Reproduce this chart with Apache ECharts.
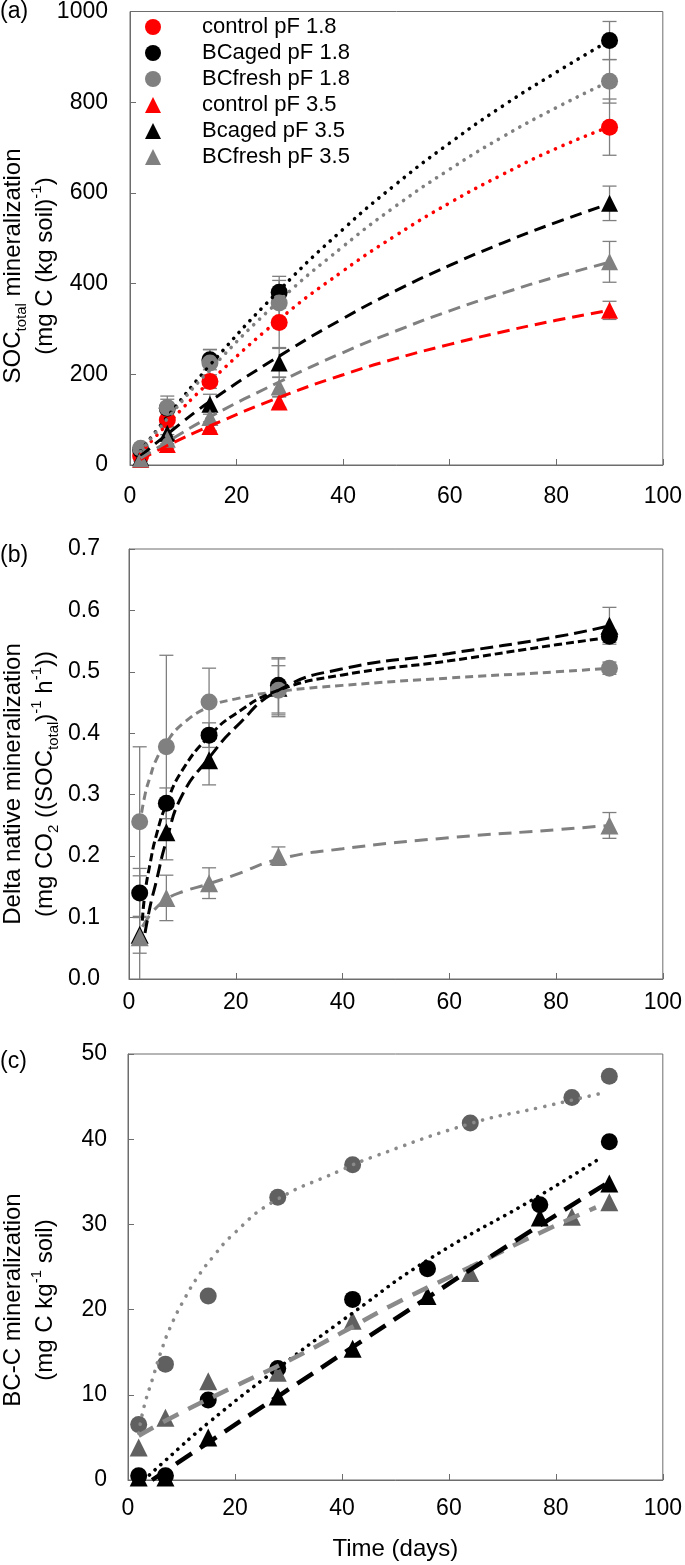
<!DOCTYPE html>
<html>
<head>
<meta charset="utf-8">
<script src="https://cdn.jsdelivr.net/npm/echarts@6/dist/echarts.min.js"></script>
<style>html,body{margin:0;padding:0;background:#fff;}#c{width:685px;height:1565px;}</style>
</head>
<body>
<div id="c"></div>
<script>
// ---------- DATA ----------
const xTicks = [0, 20, 40, 60, 80, 100];
const days = [2, 7, 15, 28, 90];

// Panel (a): SOC_total mineralization, mg C (kg soil)^-1
const aControl18 = [20, 99, 184, 314, 745];
const aBCaged18 = [33, 125, 232, 381, 936];
const aBCfresh18 = [37, 127, 225, 357, 846];
const aControl35 = [12, 45, 85, 139, 341];
const aBcaged35 = [16, 70, 134, 225, 577];
const aBCfresh35 = [13, 57, 105, 172, 448];
const aControl18Err = [5, 14, 15, 55, 62];
const aBCaged18Err = [8, 20, 22, 35, 42];
const aBCfresh18Err = [8, 25, 30, 50, 48];
const aControl35Err = [4, 8, 10, 12, 20];
const aBcaged35Err = [5, 12, 22, 32, 38];
const aBCfresh35Err = [4, 10, 15, 22, 45];
// fitted curves (a)
const aFitDays = [2, 7, 15, 28, 40, 50, 60, 70, 80, 90];
const aFitControl18 = [26, 90, 184, 321, 428, 507, 578, 641, 698, 746];
const aFitBCaged18 = [31, 106, 220, 385, 520, 620, 710, 792, 866, 936];
const aFitBCfresh18 = [30, 102, 210, 362, 482, 572, 652, 724, 788, 846];
const aFitControl35 = [12, 43, 86, 149, 199, 235, 266, 294, 319, 341];
const aFitBcaged35 = [20, 68, 140, 240, 323, 385, 440, 490, 535, 576];
const aFitBCfresh35 = [15, 51, 106, 183, 248, 296, 340, 379, 415, 447];

// Panel (b): delta native mineralization
const bBCaged18 = [0.14, 0.286, 0.397, 0.478, 0.558];
const bBCfresh18 = [0.256, 0.378, 0.451, 0.47, 0.506];
const bBcaged35 = [0.072, 0.239, 0.356, 0.474, 0.575];
const bBCfresh35 = [0.068, 0.132, 0.156, 0.2, 0.25];
const bBCaged18Err = [0.04, 0.025, 0.02, 0.045, 0.01];
const bBCfresh18Err = [0.122, 0.149, 0.055, 0.04, 0.01];
const bBcaged35Err = [0.03, 0.045, 0.04, 0.047, 0.03];
const bBCfresh35Err = [0.1, 0.037, 0.025, 0.015, 0.021];
const bFitFresh18Days = [2, 3, 4, 5, 7, 10, 15, 20, 28, 40, 60, 80, 90];
const bFitFresh18 = [0.25, 0.30, 0.33, 0.355, 0.385, 0.415, 0.443, 0.456, 0.468, 0.478, 0.49, 0.50, 0.506];
const bFitAged18Days = [2.5, 3, 4, 5, 7, 10, 15, 20, 28, 40, 60, 80, 90];
const bFitAged18 = [0.095, 0.14, 0.19, 0.23, 0.285, 0.34, 0.395, 0.432, 0.47, 0.495, 0.518, 0.544, 0.556];
const bFitAged35Days = [3, 4, 5, 7, 10, 15, 20, 28, 40, 60, 80, 90];
const bFitAged35 = [0.075, 0.12, 0.155, 0.225, 0.30, 0.36, 0.41, 0.47, 0.505, 0.53, 0.557, 0.575];
const bFitFresh35Days = [2.5, 4, 5, 7, 10, 15, 20, 28, 40, 60, 80, 90];
const bFitFresh35 = [0.085, 0.105, 0.115, 0.13, 0.142, 0.155, 0.17, 0.195, 0.212, 0.23, 0.243, 0.25];

// Panel (c): BC-C mineralization
const cFresh18Days = [2, 7, 15, 28, 42, 64, 83, 90];
const cFresh18 = [6.5, 13.6, 21.6, 33.2, 37.0, 41.9, 44.9, 47.4];
const cAged18Days = [2, 7, 15, 28, 42, 56, 77, 90];
const cAged18 = [0.5, 0.5, 9.4, 13.1, 21.2, 24.8, 32.3, 39.7];
const cAged35Days = [2, 7, 15, 28, 42, 56, 77, 90];
const cAged35 = [0.3, 0.3, 5.0, 9.8, 15.4, 21.6, 30.8, 34.8];
const cFresh35Days = [2, 7, 15, 28, 42, 64, 83, 90];
const cFresh35 = [3.8, 7.3, 11.6, 12.6, 18.7, 24.3, 30.9, 32.6];
const cFitFresh18Days = [2, 3, 4.7, 6.3, 8.1, 10.6, 13.1, 15.9, 19.6, 27, 39.6, 45.7, 64.4, 76.9, 88.6];
const cFitFresh18 = [5.5, 8.6, 12.1, 15.3, 18.2, 21.3, 23.9, 26.2, 28.8, 32.6, 36.3, 37.9, 41.9, 43.7, 45.4];
const cFitAged18Days = [3, 7, 15, 28, 42, 56, 77, 88.6];
const cFitAged18 = [0, 2.3, 6.7, 13.1, 19.6, 25.8, 33.4, 37.9];
const cFitAged35Days = [4.5, 15, 28, 42, 56, 73, 90];
const cFitAged35 = [0, 4.4, 9.8, 15.6, 21.4, 28.3, 35.0];
const cFitFresh35Days = [2, 9, 20, 30, 40, 49, 64, 77, 87.5];
const cFitFresh35 = [5.2, 7.6, 11.0, 14.0, 17.3, 20.4, 25.0, 29.0, 32.0];

// ---------- CHART ----------
const FONT = '"Liberation Sans", Arial, Helvetica, sans-serif';
const AX = '#6d6d6d';
const RED = '#ff0000', BLK = '#000000', GRY = '#808080', DGRY = '#606060', LGRY = '#8a8a8a';

const chart = echarts.init(document.getElementById('c'), null, {renderer: 'canvas'});

const grids = [
  {left: 130, top: 10, width: 533, height: 455},
  {left: 129, top: 549, width: 534, height: 430},
  {left: 128, top: 1054, width: 536, height: 426}
].map(g => Object.assign(g, {show: true, borderColor: AX, borderWidth: 1, backgroundColor: 'transparent'}));

const xMargins = [20, 12, 17];
const xAxes = [0, 1, 2].map(i => ({
  type: 'value', gridIndex: i, min: xTicks[0], max: xTicks[xTicks.length - 1], interval: 20,
  axisLine: {show: true, lineStyle: {color: AX, width: 1}},
  axisTick: {show: true, inside: true, length: 6, lineStyle: {color: AX}},
  axisLabel: {fontSize: 23, color: '#000', fontFamily: FONT, margin: xMargins[i]},
  splitLine: {show: false},
  name: i === 2 ? 'Time (days)' : '', nameLocation: 'middle', nameGap: 57,
  nameTextStyle: {fontSize: 24, color: '#000', fontFamily: FONT}
}));

const yCfg = [
  {min: 0, max: 1000, interval: 200, margin: 22, fmt: v => String(v)},
  {min: 0, max: 0.7, interval: 0.1, margin: 29, fmt: v => v.toFixed(1)},
  {min: 0, max: 50, interval: 10, margin: 21, fmt: v => String(v)}
];
const yAxes = yCfg.map((c, i) => ({
  type: 'value', gridIndex: i, min: c.min, max: c.max, interval: c.interval,
  axisLine: {show: true, lineStyle: {color: AX, width: 1}},
  axisTick: {show: true, inside: true, length: 6, lineStyle: {color: AX}},
  axisLabel: {fontSize: 23, color: '#000', fontFamily: FONT, margin: c.margin, formatter: c.fmt},
  splitLine: {show: false}
}));

function errRender(params, api) {
  const x = api.value(0), y = api.value(1), e = api.value(2);
  const clamped = (y - e) < 0;
  const pTop = api.coord([x, y + e]);
  const pBot = api.coord([x, Math.max(y - e, 0)]);
  const hw = 7;
  const st = {stroke: '#7f7f7f', lineWidth: 1.3, fill: null};
  const ch = [
    {type: 'line', shape: {x1: pTop[0], y1: pTop[1], x2: pBot[0], y2: pBot[1]}, style: st},
    {type: 'line', shape: {x1: pTop[0] - hw, y1: pTop[1], x2: pTop[0] + hw, y2: pTop[1]}, style: st}
  ];
  if (!clamped) ch.push({type: 'line', shape: {x1: pBot[0] - hw, y1: pBot[1], x2: pBot[0] + hw, y2: pBot[1]}, style: st});
  return {type: 'group', children: ch};
}

const series = [];
function errSeries(gi, xs, ys, es) {
  series.push({
    type: 'custom', xAxisIndex: gi, yAxisIndex: gi, z: 1, silent: true,
    renderItem: errRender, encode: {x: 0, y: 1},
    data: xs.map((d, i) => [d, ys[i], es[i]])
  });
}
function pts(gi, name, xs, ys, symbol, color, size) {
  series.push({
    type: 'scatter', name: name, xAxisIndex: gi, yAxisIndex: gi, z: 2,
    symbol: symbol, symbolSize: size, itemStyle: {color: color, opacity: 1},
    data: xs.map((d, i) => [d, ys[i]])
  });
}
function curve(gi, xs, ys, color, width, dash, cap) {
  series.push({
    type: 'line', xAxisIndex: gi, yAxisIndex: gi, z: 3, silent: true,
    showSymbol: false, symbol: 'none', smooth: 0.5,
    lineStyle: {color: color, width: width, type: dash, cap: cap || 'butt'},
    data: xs.map((d, i) => [d, ys[i]])
  });
}

const DOT_A = [0.1, 8];
const DASH_A = [12, 7];
// Panel (a)
errSeries(0, days, aControl18, aControl18Err);
errSeries(0, days, aBCaged18, aBCaged18Err);
errSeries(0, days, aBCfresh18, aBCfresh18Err);
errSeries(0, days, aControl35, aControl35Err);
errSeries(0, days, aBcaged35, aBcaged35Err);
errSeries(0, days, aBCfresh35, aBCfresh35Err);
pts(0, 'control pF 1.8', days, aControl18, 'circle', RED, 17);
pts(0, 'BCaged pF 1.8', days, aBCaged18, 'circle', BLK, 17);
pts(0, 'BCfresh pF 1.8', days, aBCfresh18, 'circle', GRY, 17);
pts(0, 'control pF 3.5', days, aControl35, 'triangle', RED, 17);
pts(0, 'Bcaged pF 3.5', days, aBcaged35, 'triangle', BLK, 17);
pts(0, 'BCfresh pF 3.5', days, aBCfresh35, 'triangle', GRY, 17);
curve(0, aFitDays, aFitControl18, RED, 3.6, DOT_A, 'round');
curve(0, aFitDays, aFitBCaged18, BLK, 3.6, DOT_A, 'round');
curve(0, aFitDays, aFitBCfresh18, GRY, 3.6, DOT_A, 'round');
curve(0, aFitDays, aFitControl35, RED, 3, DASH_A);
curve(0, aFitDays, aFitBcaged35, BLK, 3, DASH_A);
curve(0, aFitDays, aFitBCfresh35, GRY, 3, DASH_A);

// Panel (b)
errSeries(1, days, bBcaged35, bBcaged35Err);
errSeries(1, days, bBCaged18, bBCaged18Err);
errSeries(1, days, bBCfresh35, bBCfresh35Err);
errSeries(1, days, bBCfresh18, bBCfresh18Err);
pts(1, 'b Bcaged pF 3.5', days, bBcaged35, 'triangle', BLK, 18);
pts(1, 'b BCaged pF 1.8', days, bBCaged18, 'circle', BLK, 17);
pts(1, 'b BCfresh pF 3.5', days, bBCfresh35, 'triangle', GRY, 18);
pts(1, 'b BCfresh pF 1.8', days, bBCfresh18, 'circle', GRY, 17);
curve(1, bFitFresh18Days, bFitFresh18, GRY, 3, [8, 5]);
curve(1, bFitFresh35Days, bFitFresh35, GRY, 3, [13, 8]);
curve(1, bFitAged35Days, bFitAged35, BLK, 3, [13, 6]);
curve(1, bFitAged18Days, bFitAged18, BLK, 3, [8, 4]);

// Panel (c)
pts(2, 'c BCaged pF 1.8', cAged18Days, cAged18, 'circle', BLK, 17);
pts(2, 'c Bcaged pF 3.5', cAged35Days, cAged35, 'triangle', BLK, 18);
pts(2, 'c BCfresh pF 1.8', cFresh18Days, cFresh18, 'circle', DGRY, 17);
pts(2, 'c BCfresh pF 3.5', cFresh35Days, cFresh35, 'triangle', DGRY, 18);
curve(2, cFitFresh18Days, cFitFresh18, LGRY, 3.6, [0.1, 9], 'round');
curve(2, cFitAged18Days, cFitAged18, BLK, 3.6, [0.1, 7.5], 'round');
curve(2, cFitFresh35Days, cFitFresh35, LGRY, 4.5, [17, 11]);
curve(2, cFitAged35Days, cFitAged35, BLK, 4.5, [19, 10]);

const richBase = {
  n: {fontSize: 24, fontFamily: FONT, lineHeight: 32, color: '#000'},
  sub: {fontSize: 15, fontFamily: FONT, lineHeight: 25, verticalAlign: 'bottom', color: '#000'},
  sup: {fontSize: 15, fontFamily: FONT, lineHeight: 22, verticalAlign: 'top', color: '#000'}
};
function ytitle(x, y, text) {
  return {
    type: 'text', x: x, y: y, rotation: Math.PI / 2, silent: true,
    style: {
      text: text, rich: richBase, fontSize: 24, fontFamily: FONT, fill: '#000',
      align: 'center', verticalAlign: 'middle', textAlign: 'center', textVerticalAlign: 'middle'
    }
  };
}
function plabel(x, y, t) {
  return {
    type: 'text', x: x, y: y, silent: true,
    style: {text: t, fontSize: 23, fontFamily: FONT, fill: '#000', align: 'left', verticalAlign: 'middle', textAlign: 'left', textVerticalAlign: 'middle'}
  };
}

const option = {
  backgroundColor: '#ffffff',
  animation: false,
  grid: grids,
  xAxis: xAxes,
  yAxis: yAxes,
  legend: {
    orient: 'vertical', left: 140, top: 11, itemWidth: 16, itemHeight: 16, itemGap: 4,
    selectedMode: false,
    textStyle: {fontSize: 22, fontFamily: FONT, color: '#000', lineHeight: 16, padding: [0, 0, 0, 36]},
    data: ['control pF 1.8', 'BCaged pF 1.8', 'BCfresh pF 1.8', 'control pF 3.5', 'Bcaged pF 3.5', 'BCfresh pF 3.5']
  },
  graphic: [
    plabel(0, 12, '(a)'),
    plabel(0, 556, '(b)'),
    plabel(0, 1062, '(c)'),
    ytitle(29, 266, '{n|SOC}{sub|total}{n| mineralization}\n{n|(mg C (kg soil)}{sup|-1}{n|)}'),
    ytitle(29, 784, '{n|Delta native mineralization}\n{n|(mg CO}{sub|2}{n| ((SOC}{sub|total}{n|)}{sup|-1}{n| h}{sup|-1}{n|))}'),
    ytitle(29, 1300, '{n|BC-C mineralization}\n{n|(mg C kg}{sup|-1}{n| soil)}')
  ],
  series: series
};
chart.setOption(option);
</script>
</body>
</html>
